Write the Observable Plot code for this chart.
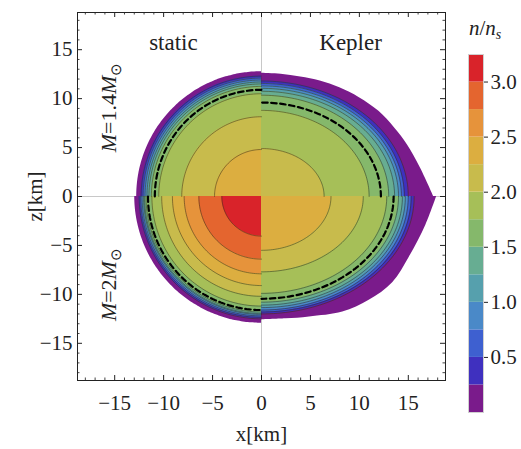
<!DOCTYPE html>
<html><head><meta charset="utf-8">
<script src="https://cdn.jsdelivr.net/npm/d3@7"></script>
<script src="https://cdn.jsdelivr.net/npm/@observablehq/plot@0.6"></script>
<style>
body{margin:0;background:#fff;}
#wrap{position:relative;width:521px;height:449px;font-family:'Liberation Serif',serif;color:#222;}
#main{position:absolute;left:0;top:0;}
#bar{position:absolute;left:441px;top:0;}
#barlabel{position:absolute;left:469px;top:16px;font-size:21px;white-space:nowrap;}
#barlabel sub{font-size:14px;vertical-align:-4px;font-style:italic;}
</style></head><body>
<div id="wrap"><div id="main"></div><div id="bar"></div><div id="barlabel"><i>n</i>/<i>n</i><sub>s</sub></div></div>
<script>
// ---- data ----
// contour levels of n/n_s (band lower bounds) and top of colour scale
const levels = [0, 0.25, 0.5, 0.75, 1.0, 1.25, 1.5, 1.75, 2.0, 2.25, 2.5, 2.75, 3.0, 3.25];
const bandColors = ["#7a1b8b","#3f30bf","#3e60d0","#4a89c8","#56a0ad","#67ad92","#85b86b","#a6bf58","#c8bb4c","#dcae40","#e6933b","#e4652f","#d9232a"];
const barTicks = [0.5, 1.0, 1.5, 2.0, 2.5, 3.0];
const majorTicks = [-15, -10, -5, 0, 5, 10, 15];

// radius [km] of contour levels[k] (static stars are spherical)
const staticLightR = [12.75, 12.3, 12.1, 11.9, 11.7, 11.5, 11.25, 10.5, 8.15, 4.8];
const staticHeavyR = [12.95, 12.5, 12.35, 12.2, 12.05, 11.95, 11.8, 11.2, 10.2, 9.1, 7.9, 6.4, 4.05];
// Kepler stars: equatorial / polar radius [km] of contour levels[k]; k=0 is the surface (below)
const keplerLightA = [null, 15.0, 14.6, 14.3, 14.0, 13.6, 13.0, 11.0, 6.4];
const keplerLightB = [null, 11.8, 11.55, 11.3, 11.05, 10.75, 10.35, 8.8, 4.9];
const keplerHeavyA = [null, 15.6, 15.3, 15.0, 14.7, 14.4, 14.0, 12.8, 10.4, 7.1];
const keplerHeavyB = [null, 12.0, 11.8, 11.6, 11.35, 11.1, 10.8, 9.9, 7.7, 5.5];
// surfaces of the Kepler stars, [x, |z|] in km
const keplerLightSurface = [[0,12.6],[2,12.5],[4,12.2],[6,11.8],[8,11.1],[10,10.1],[12,8.7],[13.6,7.0],[14.9,5.3],[16.2,3.0],[17.6,0]];
const keplerHeavySurface = [[0,12.6],[2.5,12.5],[4.9,12.3],[8.3,11.8],[11.0,10.6],[13.4,8.8],[15.1,6.2],[16.8,2.9],[17.9,0]];
// dashed curve, per quadrant [static 1.4, Kepler 1.4, static 2, Kepler 2]
const dashedEq  = [10.9, 12.2, 11.6, 13.5];
const dashedPol = [10.9, 9.6, 11.6, 10.45];
const panelLabels = [{text:"static", x:-9.0, z:15.7}, {text:"Kepler", x:9.1, z:15.7}];
const massLabels = [{text:"M=1.4M", x:-15.6, z:9.1}, {text:"M=2M", x:-15.6, z:-9.0}];

// ---- build shapes ----
const quads = [
  {sx:-1, sz: 1, A: staticLightR, B: staticLightR, surface: null},
  {sx: 1, sz: 1, A: keplerLightA, B: keplerLightB, surface: keplerLightSurface},
  {sx:-1, sz:-1, A: staticHeavyR, B: staticHeavyR, surface: null},
  {sx: 1, sz:-1, A: keplerHeavyA, B: keplerHeavyB, surface: keplerHeavySurface}
];
const N = 60;
const arc = (sx, sz, a, b) => d3.range(N + 1).map(i => {
  const t = i / N * Math.PI / 2;
  return {x: sx * a * Math.cos(t), z: sz * b * Math.sin(t)};
});
const shapes = [], lines = [], dash = [];
quads.forEach((q, qi) => {
  q.A.forEach((a, k) => {
    const key = qi + "-" + k;
    const pts = a == null
      ? q.surface.map(([x, z]) => ({x: q.sx * x, z: q.sz * z}))
      : arc(q.sx, q.sz, a, q.B[k]);
    pts.forEach(p => shapes.push({...p, key, level: levels[k]}));
    if (k > 0) pts.forEach(p => lines.push({...p, key}));
  });
  arc(q.sx, q.sz, dashedEq[qi], dashedPol[qi]).forEach(p => dash.push({...p, key: qi}));
});
const bands = levels.slice(0, -1).map((lo, i) => ({lo, hi: levels[i + 1]}));
const color = {type: "threshold", domain: levels.slice(1, -1), range: bandColors};
const minorTicks = d3.range(-18, 19).filter(v => v % 5 !== 0);
const font = {fontFamily: "'Liberation Serif', serif", fontSize: "21px", color: "#222", background: "transparent"};

const main = Plot.plot({
  width: 462, height: 449, marginLeft: 77, marginRight: 17, marginTop: 12, marginBottom: 69,
  x: {domain: [-18.8, 18.8]},
  y: {domain: [-18.8, 18.8]},
  color,
  style: font,
  marks: [
    Plot.ruleX([0], {stroke: "#c8c8c8"}),
    Plot.ruleY([0], {stroke: "#c8c8c8"}),
    Plot.areaY(shapes, {x: "x", y1: 0, y2: "z", z: "key", fill: "level", curve: "catmull-rom"}),
    Plot.line(lines, {x: "x", y: "z", z: "key", stroke: "#33331a", strokeOpacity: 0.65, strokeWidth: 0.8, curve: "catmull-rom"}),
    Plot.line(dash, {x: "x", y: "z", z: "key", stroke: "#000", strokeWidth: 2.2, strokeDasharray: "5.5,3.5"}),
    Plot.text(panelLabels, {x: "x", y: "z", text: "text", fontSize: 23}),
    Plot.text(massLabels, {x: "x", y: "z", text: "text", rotate: -90, fontSize: 22}),
    Plot.tickX(majorTicks, {x: d => d, insetTop: 363, stroke: "#222"}),
    Plot.tickX(majorTicks, {x: d => d, insetBottom: 363, stroke: "#222"}),
    Plot.tickX(minorTicks, {x: d => d, insetTop: 365.5, stroke: "#444"}),
    Plot.tickX(minorTicks, {x: d => d, insetBottom: 365.5, stroke: "#444"}),
    Plot.tickY(majorTicks, {y: d => d, insetRight: 363, stroke: "#222"}),
    Plot.tickY(majorTicks, {y: d => d, insetLeft: 363, stroke: "#222"}),
    Plot.tickY(minorTicks, {y: d => d, insetRight: 365.5, stroke: "#444"}),
    Plot.tickY(minorTicks, {y: d => d, insetLeft: 365.5, stroke: "#444"}),
    Plot.frame({stroke: "#222"}),
    Plot.axisX({anchor: "bottom", ticks: majorTicks, tickSize: 0, tickPadding: 15, label: "x[km]", labelAnchor: "center", labelOffset: 60, labelArrow: "none"}),
    Plot.axisY({anchor: "left", ticks: majorTicks, tickSize: 0, tickPadding: 5, label: "z[km]", labelAnchor: "center", labelOffset: 50, labelArrow: "none"})
  ]
});
// subscripts / italics for the mass labels
d3.select(main).selectAll("text").each(function() {
  const t = this.textContent;
  if (t.startsWith("M=")) {
    const num = t.slice(2, -1);
    this.innerHTML = `<tspan font-style="italic">M</tspan>=${num}<tspan font-style="italic">M</tspan><tspan dy="5" font-size="15">⊙</tspan>`;
  }
});
document.getElementById("main").appendChild(main);

const bar = Plot.plot({
  width: 80, height: 449, marginLeft: 27, marginRight: 38, marginTop: 54, marginBottom: 37,
  x: {domain: [0, 1], axis: null},
  y: {domain: [levels[0], levels[levels.length - 1]]},
  color,
  style: font,
  marks: [
    Plot.rect(bands, {x1: 0, x2: 1, y1: "lo", y2: "hi", fill: "lo"}),
    Plot.frame({stroke: "#d0d0d0"}),
    Plot.axisY({anchor: "right", ticks: barTicks, tickFormat: d3.format(".1f"), tickSize: 4, tickPadding: 3, label: null})
  ]
});
document.getElementById("bar").appendChild(bar);
</script>
</body></html>
